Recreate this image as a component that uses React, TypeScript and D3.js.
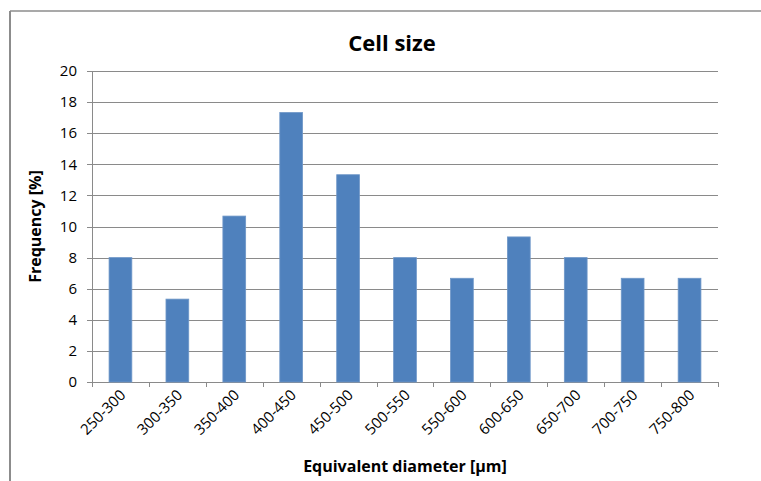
import React from "react";
import * as d3 from "d3";

const categories = ["250-300","300-350","350-400","400-450","450-500","500-550","550-600","600-650","650-700","700-750","750-800"];
const values = [8, 5.33, 10.67, 17.33, 13.33, 8, 6.67, 9.33, 8, 6.67, 6.67];
const yTicks = [0, 2, 4, 6, 8, 10, 12, 14, 16, 18, 20];
const title = "Cell size";
const xTitle = "Equivalent diameter [µm]";
const yTitle = "Frequency [%]";

const W = 761, H = 481;
const plot = { left: 92, right: 718, top: 71, bottom: 382 };
const FONT = "'Open Sans', 'Noto Sans', sans-serif";
const GRID = "#8a8a8a";

export default function App() {
  const x = d3.scaleBand<string>().domain(categories).range([plot.left, plot.right]).paddingInner(0.6).paddingOuter(0.3);
  const xb = d3.scaleBand<string>().domain(categories).range([plot.left, plot.right]);
  const y = d3.scaleLinear().domain([0, 20]).range([plot.bottom, plot.top]);
  const boundaries = categories.map((c) => xb(c)!).concat([plot.right]);
  return (
    <svg width={W} height={H} style={{ position: "absolute", left: 0, top: 0, background: "#fff" }} fontFamily={FONT}>
      <rect x={0} y={0} width={W} height={H} fill="#fff" />
      {/* chart frame */}
      <line x1={10} x2={W} y1={11} y2={11} stroke="#8c8c8c" strokeWidth={1.5} />
      <line x1={10} x2={10} y1={11} y2={H} stroke="#8c8c8c" strokeWidth={2} />
      <text x={392} y={51} textAnchor="middle" fontSize={22} fontWeight={700} fill="#000">{title}</text>
      {/* gridlines */}
      {yTicks.map((t) => (
        <g key={t}>
          <line x1={plot.left} x2={plot.right} y1={Math.round(y(t)) + 0.5} y2={Math.round(y(t)) + 0.5} stroke={GRID} strokeWidth={1} />
          <line x1={plot.left - 5} x2={plot.left} y1={Math.round(y(t)) + 0.5} y2={Math.round(y(t)) + 0.5} stroke={GRID} strokeWidth={1} />
          <text x={77} y={y(t)} dy="0.35em" textAnchor="end" fontSize={15} fill="#000">{t}</text>
        </g>
      ))}
      <line x1={plot.left + 0.5} x2={plot.left + 0.5} y1={plot.top} y2={plot.bottom} stroke={GRID} strokeWidth={1} />
      {boundaries.map((b, i) => (
        <line key={i} x1={Math.round(b) + 0.5} x2={Math.round(b) + 0.5} y1={plot.bottom} y2={plot.bottom + 5} stroke={GRID} strokeWidth={1} />
      ))}
      {/* bars */}
      {categories.map((c, i) => (
        <rect key={c} x={x(c)!} y={y(values[i])} width={x.bandwidth()} height={plot.bottom - y(values[i])} fill="#4f81bd" stroke="#6f97c8" strokeWidth={0.8} />
      ))}
      {/* x labels */}
      {categories.map((c) => {
        const cx = xb(c)! + xb.bandwidth() / 2 + 6;
        const cy = 396;
        return (
          <text key={c} x={cx} y={cy} textAnchor="end" fontSize={15} fill="#000" transform={`rotate(-45 ${cx} ${cy})`}>{c}</text>
        );
      })}
      <text x={405} y={472} textAnchor="middle" fontSize={16} fontWeight={700} fill="#000">{xTitle}</text>
      <text transform={`translate(41 ${(plot.top + plot.bottom) / 2}) rotate(-90)`} textAnchor="middle" fontSize={16} fontWeight={700} fill="#000">{yTitle}</text>
    </svg>
  );
}
